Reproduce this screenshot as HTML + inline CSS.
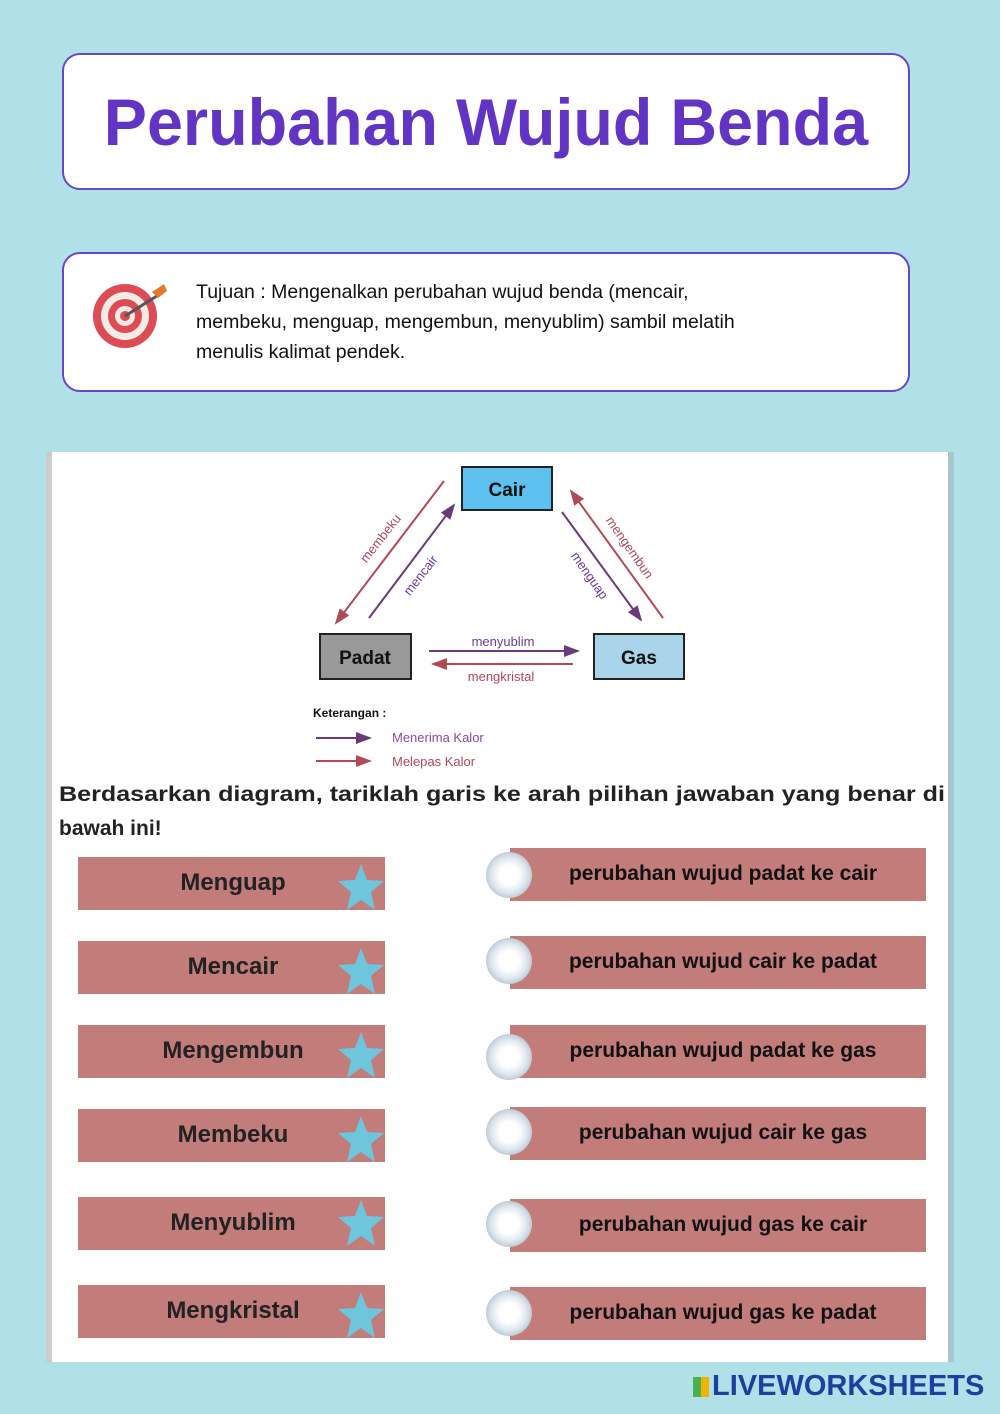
<!DOCTYPE html>
<html><head><meta charset="utf-8"><style>
body{margin:0;width:1000px;height:1414px;background:#b1e1e8;position:relative;overflow:hidden;font-family:"Liberation Sans",sans-serif}
.box{position:absolute;left:62px;width:844px;background:#fff;border:2px solid #6b45c4;border-radius:18px}
.title{top:53px;height:133px;display:flex;align-items:center;justify-content:center;font-family:"Liberation Sans",sans-serif;font-weight:bold;font-size:66px;color:#6234c4;letter-spacing:0px}
.goal{top:252px;height:136px}
.goal p{position:absolute;left:132px;top:23px;margin:0;font-size:19.5px;line-height:30px;color:#111;width:625px}
.panel{position:absolute;left:46px;top:452px;width:896px;height:910px;background:#fff;border-left:6px solid #ccc;border-right:6px solid #a9c6cc}
.l{position:absolute;left:78px;width:307px;height:53px;background:#c27c7a}
.l span{position:absolute;left:0;width:310px;text-align:center;top:12px;font-size:24px;font-weight:bold;color:#222}
.r{position:absolute;left:510px;width:416px;height:53px;background:#c27c7a}
.r span{position:absolute;left:10px;right:0;text-align:center;top:14px;font-size:21px;font-weight:bold;color:#111}
.c{position:absolute;width:46px;height:46px;border-radius:50%;background:radial-gradient(circle,#fff 30%,#dde6ee 55%,#8a9aa6 100%)}
.star{position:absolute;left:336px;width:50px;height:50px}
</style></head><body>
<div class="box title"><span style="transform:scaleX(0.98);display:inline-block">Perubahan Wujud Benda</span></div>
<div class="box goal">
<svg style="position:absolute;left:28px;top:28px" width="80" height="70" viewBox="0 0 80 70"><circle cx="33" cy="34" r="32" fill="#dd4b55"/><circle cx="33" cy="34" r="24" fill="#f3ece4"/><circle cx="33" cy="34" r="17" fill="#dd4b55"/><circle cx="33" cy="34" r="10" fill="#f3ece4"/><circle cx="33" cy="34" r="5" fill="#dd4b55"/><line x1="33" y1="34" x2="68" y2="12" stroke="#555" stroke-width="3"/><path d="M60 10 L72 2 L75 9 L66 16Z" fill="#e07a2c"/></svg>
<p>Tujuan : Mengenalkan perubahan wujud benda (mencair,<br>membeku, menguap, mengembun, menyublim) sambil melatih<br>menulis kalimat pendek.</p></div>
<div class="panel"></div>
<svg style="position:absolute;left:0;top:0" width="1000" height="850">
<defs><marker id="p" markerWidth="8" markerHeight="8" refX="7" refY="4" orient="auto"><path d="M0 1L8 4L0 7Z" fill="#6b3a7a"/></marker>
<marker id="r" markerWidth="8" markerHeight="8" refX="7" refY="4" orient="auto"><path d="M0 1L8 4L0 7Z" fill="#b04a55"/></marker></defs>
<rect x="462" y="467" width="90" height="43" fill="#5ec0ee" stroke="#222" stroke-width="2"/>
<text x="507" y="496" font-size="19" font-weight="bold" text-anchor="middle" fill="#111">Cair</text>
<rect x="320" y="634" width="91" height="45" fill="#999" stroke="#222" stroke-width="2"/>
<text x="365" y="664" font-size="19" font-weight="bold" text-anchor="middle" fill="#111">Padat</text>
<rect x="594" y="634" width="90" height="45" fill="#a9d4ea" stroke="#222" stroke-width="2"/>
<text x="639" y="664" font-size="19" font-weight="bold" text-anchor="middle" fill="#111">Gas</text>
<line x1="444" y1="481" x2="336" y2="623" stroke="#b04a55" stroke-width="2" marker-end="url(#r)"/>
<line x1="369" y1="618" x2="454" y2="505" stroke="#6b3a7a" stroke-width="2" marker-end="url(#p)"/>
<line x1="562" y1="512" x2="641" y2="620" stroke="#6b3a7a" stroke-width="2" marker-end="url(#p)"/>
<line x1="663" y1="618" x2="571" y2="491" stroke="#b04a55" stroke-width="2" marker-end="url(#r)"/>
<line x1="429" y1="651" x2="578" y2="651" stroke="#6b3a7a" stroke-width="2" marker-end="url(#p)"/>
<line x1="573" y1="664" x2="433" y2="664" stroke="#b04a55" stroke-width="2" marker-end="url(#r)"/>
<text x="503" y="646" font-size="13" fill="#6b3a9a" text-anchor="middle">menyublim</text>
<text x="501" y="681" font-size="13" fill="#b04a55" text-anchor="middle">mengkristal</text>
<text transform="translate(384,541) rotate(-52)" font-size="13" fill="#b04a55" text-anchor="middle">membeku</text>
<text transform="translate(424,578) rotate(-52)" font-size="13" fill="#6b3a9a" text-anchor="middle">mencair</text>
<text transform="translate(586,578) rotate(55)" font-size="13" fill="#6b3a9a" text-anchor="middle">menguap</text>
<text transform="translate(626,550) rotate(55)" font-size="13" fill="#b04a55" text-anchor="middle">mengembun</text>
<text x="313" y="717" font-size="12" font-weight="bold" fill="#111">Keterangan :</text>
<line x1="316" y1="738" x2="370" y2="738" stroke="#6b3a7a" stroke-width="2" marker-end="url(#p)"/>
<text x="392" y="742" font-size="13" fill="#8a4aa0">Menerima Kalor</text>
<line x1="316" y1="761" x2="370" y2="761" stroke="#b04a55" stroke-width="2" marker-end="url(#r)"/>
<text x="392" y="766" font-size="13" fill="#b04a55">Melepas Kalor</text>
<text x="59" y="801" font-size="21" font-weight="bold" fill="#222" textLength="886" lengthAdjust="spacingAndGlyphs">Berdasarkan diagram, tariklah garis ke arah pilihan jawaban yang benar di</text>
<text x="59" y="835" font-size="21" font-weight="bold" fill="#222">bawah ini!</text>
</svg>
<div class="l" style="top:857px"><span>Menguap</span></div>
<div class="l" style="top:941px"><span>Mencair</span></div>
<div class="l" style="top:1025px"><span>Mengembun</span></div>
<div class="l" style="top:1109px"><span>Membeku</span></div>
<div class="l" style="top:1197px"><span>Menyublim</span></div>
<div class="l" style="top:1285px"><span>Mengkristal</span></div>
<svg class="star" style="top:862px" viewBox="0 0 50 50"><path d="M25 2L31 18L48 19L35 30L39 48L25 38L11 48L15 30L2 19L19 18Z" fill="#6ec6dc"/></svg>
<svg class="star" style="top:946px" viewBox="0 0 50 50"><path d="M25 2L31 18L48 19L35 30L39 48L25 38L11 48L15 30L2 19L19 18Z" fill="#6ec6dc"/></svg>
<svg class="star" style="top:1030px" viewBox="0 0 50 50"><path d="M25 2L31 18L48 19L35 30L39 48L25 38L11 48L15 30L2 19L19 18Z" fill="#6ec6dc"/></svg>
<svg class="star" style="top:1114px" viewBox="0 0 50 50"><path d="M25 2L31 18L48 19L35 30L39 48L25 38L11 48L15 30L2 19L19 18Z" fill="#6ec6dc"/></svg>
<svg class="star" style="top:1198px" viewBox="0 0 50 50"><path d="M25 2L31 18L48 19L35 30L39 48L25 38L11 48L15 30L2 19L19 18Z" fill="#6ec6dc"/></svg>
<svg class="star" style="top:1290px" viewBox="0 0 50 50"><path d="M25 2L31 18L48 19L35 30L39 48L25 38L11 48L15 30L2 19L19 18Z" fill="#6ec6dc"/></svg>
<div class="r" style="top:848px"><span>perubahan wujud padat ke cair</span></div>
<div class="r" style="top:936px"><span>perubahan wujud cair ke padat</span></div>
<div class="r" style="top:1025px"><span>perubahan wujud padat ke gas</span></div>
<div class="r" style="top:1107px"><span>perubahan wujud cair ke gas</span></div>
<div class="r" style="top:1199px"><span>perubahan wujud gas ke cair</span></div>
<div class="r" style="top:1287px"><span>perubahan wujud gas ke padat</span></div>
<div class="c" style="left:486px;top:852px"></div>
<div class="c" style="left:486px;top:938px"></div>
<div class="c" style="left:486px;top:1034px"></div>
<div class="c" style="left:486px;top:1109px"></div>
<div class="c" style="left:486px;top:1201px"></div>
<div class="c" style="left:486px;top:1290px"></div>
<div style="position:absolute;left:693px;top:1377px;width:16px;height:20px;background:linear-gradient(90deg,#4caf50 50%,#f2b300 50%)"></div>
<div style="position:absolute;left:712px;top:1370px;font-size:29px;font-weight:bold;color:#1d3f9e">LIVEWORKSHEETS</div>
</body></html>
